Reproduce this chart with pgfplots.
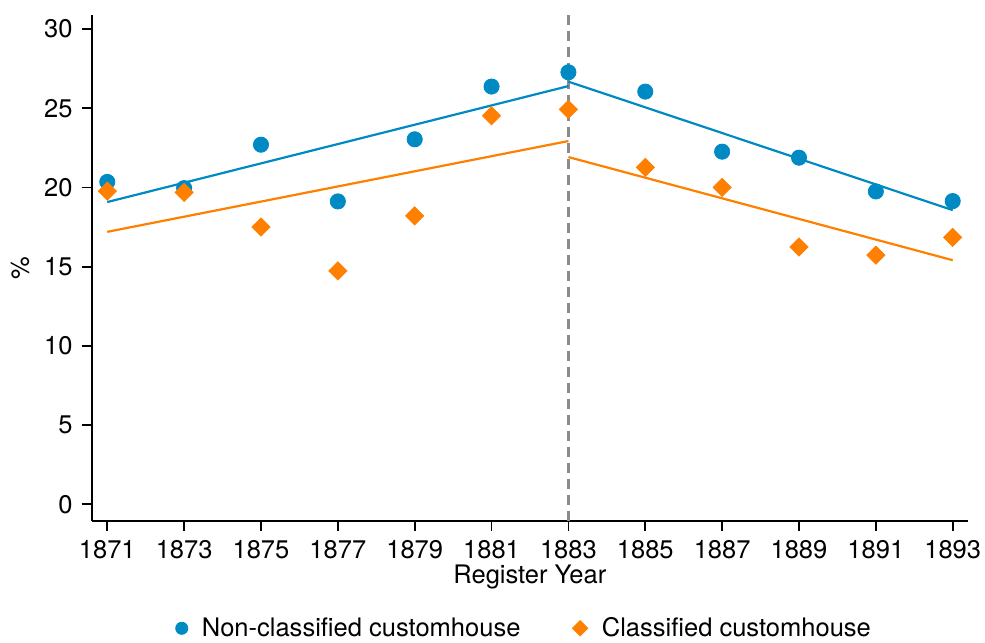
\documentclass[border=0pt]{standalone}
\usepackage{fontspec}
\setmainfont{TeX Gyre Heros}
\usepackage{pgfplots}
\pgfplotsset{compat=1.18}
\definecolor{cblue}{RGB}{0,138,196}
\definecolor{corange}{RGB}{255,128,0}
\definecolor{cgray}{RGB}{140,140,140}
\begin{document}
\begin{tikzpicture}[font=\fontsize{12.75}{15}\selectfont]
\begin{axis}[
  scale only axis,
  width=438pt, height=253pt,
  xmin=1870.594, xmax=1893.398,
  ymin=-1.05, ymax=30.9,
  axis lines*=left,
  axis line style={line width=0.9pt, black},
  xtick={1871,1873,...,1893},
  ytick={0,5,...,30},
  tick align=outside,
  major tick length=5pt,
  tick style={line width=0.9pt, black},
  /pgf/number format/assume math mode=true,
  /pgf/number format/set thousands separator={},
  xticklabel style={yshift=-1pt},
  yticklabel style={xshift=-1pt},
  xlabel={Register Year},
  ylabel={\%},
  every axis x label/.style={at={(axis description cs:0.5,-0.111)}, anchor=center},
  every axis y label/.style={at={(axis description cs:-0.0818,0.5)}, rotate=90, anchor=center},
  legend columns=2,
  legend style={draw=none, at={(axis description cs:0.4948,-0.212)}, anchor=center,
    /tikz/every odd column/.append style={column sep=5pt},
    /tikz/every even column/.append style={column sep=24pt},
    font=\fontsize{12.75}{15}\selectfont},
  legend cell align=left,
  clip=false,
]
\addplot[cblue, only marks, mark=*, mark size=3.8pt, legend image post style={scale=0.8}] coordinates {
(1871,20.35) (1873,19.96) (1875,22.70) (1877,19.12) (1879,23.04) (1881,26.37)
(1883,27.27) (1885,26.05) (1887,22.26) (1889,21.88) (1891,19.75) (1893,19.14)};
\addlegendentry{Non-classified customhouse}
\addplot[corange, only marks, mark=square*, mark size=3.2pt, mark options={rotate=45}, legend image post style={scale=0.85}] coordinates {
(1871,19.77) (1873,19.69) (1875,17.50) (1877,14.74) (1879,18.21) (1881,24.53)
(1883,24.93) (1885,21.27) (1887,20.00) (1889,16.25) (1891,15.73) (1893,16.85)};
\addlegendentry{Classified customhouse}
\addplot[cgray, line width=1.2pt, dash pattern=on 5pt off 3pt, forget plot] coordinates {(1883,-1.05) (1883,30.9)};
\addplot[cblue, line width=1.1pt, forget plot] coordinates {(1871,19.08) (1883,26.40)};
\addplot[cblue, line width=1.1pt, forget plot] coordinates {(1883,26.68) (1893,18.57)};
\addplot[corange, line width=1.1pt, forget plot] coordinates {(1871,17.20) (1883,22.93)};
\addplot[corange, line width=1.1pt, forget plot] coordinates {(1883,21.92) (1893,15.41)};
\coordinate (bbl) at (rel axis cs:-0.1046,-0.2398);
\coordinate (btr) at (rel axis cs:1.0194,1.0292);
\end{axis}
\pgfresetboundingbox
\useasboundingbox (bbl) rectangle (btr);
\end{tikzpicture}
\end{document}
